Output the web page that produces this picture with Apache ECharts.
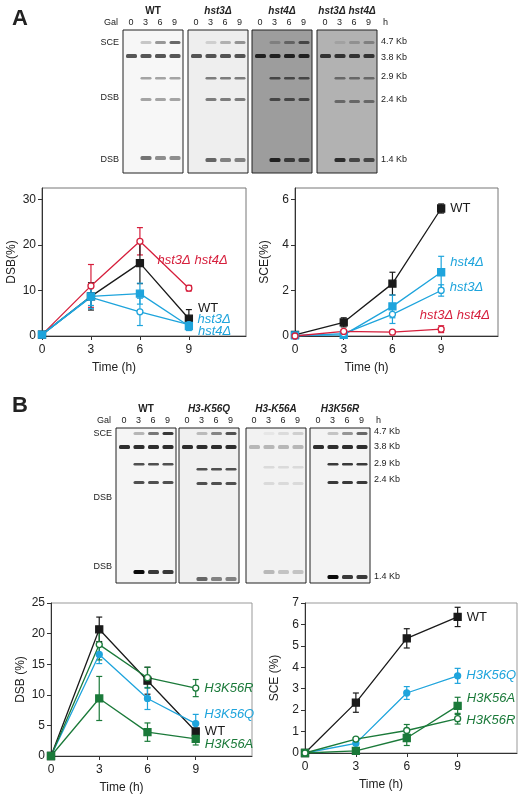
<!DOCTYPE html>
<html><head><meta charset="utf-8">
<script src="https://cdn.jsdelivr.net/npm/echarts@6/dist/echarts.min.js"></script>
<style>html,body{margin:0;background:#fff}#c{width:519px;height:800px}</style>
</head><body><div id="c"></div>
<script>
const times = [0, 3, 6, 9];
const timeTicks = [0, 3, 6, 9];
// Panel A DSB
const aDsbWT = [0.3, 8.7, 16.0, 3.8], aDsbWTErr = [0.3, 3.0, 4.5, 2.0];
const aDsbH3 = [0.3, 8.5, 5.3, 2.5], aDsbH3Err = [0.3, 2.5, 3.0, 1.0];
const aDsbH4 = [0.3, 8.7, 9.3, 2.2], aDsbH4Err = [0.3, 2.0, 2.3, 1.0];
const aDsbDbl = [0.3, 11.0, 20.8, 10.5], aDsbDblErr = [0.3, 4.7, 3.0, 0.6];
// Panel A SCE
const aSceWT = [0.05, 0.6, 2.3, 5.6], aSceWTErr = [0.05, 0.2, 0.5, 0.2];
const aSceH4 = [0.03, 0.05, 1.3, 2.8], aSceH4Err = [0.03, 0.05, 0.5, 0.7];
const aSceH3 = [0.0, 0.1, 0.95, 2.0], aSceH3Err = [0.02, 0.05, 0.4, 0.25];
const aSceDbl = [0.0, 0.2, 0.17, 0.3], aSceDblErr = [0.02, 0.05, 0.03, 0.15];
// Panel B DSB
const bDsbWT = [0, 20.7, 12.3, 4.0], bDsbWTErr = [0.2, 2.0, 2.2, 0.5];
const bDsbQ = [0, 16.6, 9.4, 5.3], bDsbQErr = [0.2, 1.5, 1.8, 1.5];
const bDsbR = [0, 18.2, 12.8, 11.1], bDsbRErr = [0.2, 2.5, 1.7, 1.4];
const bDsbA = [0, 9.4, 3.9, 2.8], bDsbAErr = [0.2, 3.6, 1.5, 1.0];
// Panel B SCE
const bSceWT = [0, 2.35, 5.35, 6.35], bSceWTErr = [0.05, 0.45, 0.45, 0.45];
const bSceQ = [0, 0.45, 2.8, 3.6], bSceQErr = [0.05, 0.05, 0.3, 0.35];
const bSceA = [0, 0.1, 0.7, 2.2], bSceAErr = [0.05, 0.05, 0.35, 0.4];
const bSceR = [0, 0.65, 1.05, 1.6], bSceRErr = [0.05, 0.05, 0.28, 0.25];

const gelATitles = ['WT', 'hst3Δ', 'hst4Δ', 'hst3Δ hst4Δ'];
const gelBTitles = ['WT', 'H3-K56Q', 'H3-K56A', 'H3K56R'];
const galLanes = ['0', '3', '6', '9'];

const BLACK = '#1a1a1a', CYAN = '#1ea4dc', RED = '#d61f3c', GREEN = '#1b7a3a';
const chart = echarts.init(document.getElementById('c'));

function errSeries(g, vals, errs, color) {
  return {
    type: 'custom', xAxisIndex: g, yAxisIndex: g, z: 3,
    data: times.map((t, i) => [t, vals[i] - errs[i], vals[i] + errs[i]]),
    renderItem: (p, api) => {
      const lo = api.coord([api.value(0), api.value(1)]);
      const hi = api.coord([api.value(0), api.value(2)]);
      const st = { stroke: color, lineWidth: 1.2 };
      return { type: 'group', children: [
        { type: 'line', shape: { x1: lo[0], y1: lo[1], x2: hi[0], y2: hi[1] }, style: st },
        { type: 'line', shape: { x1: lo[0] - 3, y1: lo[1], x2: lo[0] + 3, y2: lo[1] }, style: st },
        { type: 'line', shape: { x1: hi[0] - 3, y1: hi[1], x2: hi[0] + 3, y2: hi[1] }, style: st }
      ]};
    }
  };
}
function lineSeries(g, vals, color, sym, open, label, off) {
  return {
    type: 'line', xAxisIndex: g, yAxisIndex: g, z: 4,
    symbol: sym, symbolSize: sym === 'rect' ? 7 : 6,
    lineStyle: { color, width: 1.3 },
    itemStyle: { color: open ? '#fff' : color, borderColor: color, borderWidth: 1.3 },
    data: times.map((t, i) => {
      const d = { value: [t, vals[i]] };
      if (i === 3 && label) d.label = { show: true, formatter: label, position: 'right', offset: off,
        color: label === 'WT' ? BLACK : color, fontStyle: label === 'WT' ? 'normal' : 'italic',
        fontSize: 13, fontFamily: 'Liberation Sans' };
      return d;
    })
  };
}
function both(g, vals, errs, color, sym, open, label, off) {
  return [errSeries(g, vals, errs, color), lineSeries(g, vals, color, sym, open, label, off)];
}
const font = { fontFamily: 'Liberation Sans', fontSize: 12, color: '#222' };
function xAx(g) {
  return { type: 'value', gridIndex: g, min: 0, max: 12.5,
    axisLine: { lineStyle: { color: '#333' } },
    axisTick: { customValues: timeTicks, length: 4, lineStyle: { color: '#333' } },
    axisLabel: { customValues: timeTicks, ...font, fontSize: 12 }, splitLine: { show: false },
    name: 'Time (h)', nameLocation: 'middle', nameGap: 26, nameTextStyle: { ...font, padding: [0, 60, 0, 0] } };
}
function yAx(g, max, interval, name) {
  return { type: 'value', gridIndex: g, min: 0, max, interval,
    axisLine: { show: true, lineStyle: { color: '#333' } },
    axisTick: { show: true, length: 4, inside: false, lineStyle: { color: '#333' } },
    axisLabel: { ...font, margin: 6 }, splitLine: { show: false },
    name, nameLocation: 'middle', nameGap: 24, nameTextStyle: { ...font } };
}

// ---- gels ----
const graphics = [];
function txt(x, y, s, o) { graphics.push({ type: 'text', x, y, style: Object.assign({ text: s, ...font, fontSize: 9, fill: '#222' }, o || {}) }); }
function band(x, y, w, h, a) { graphics.push({ type: 'rect', shape: { x, y, width: w, height: h, r: 1.5 }, style: { fill: 'rgba(10,10,10,' + a + ')' } }); }
function gel(panelX, top, h, w, bgs, titles, titleItalic, rows, bandSpec, labels) {
  titles.forEach((t, i) => txt(panelX[i] + w / 2, top - 24, t, { fontSize: 10, fontWeight: 'bold', fontStyle: titleItalic[i] ? 'italic' : 'normal', align: 'center' }));
  txt(panelX[0] - 5, top - 7, 'Gal', { align: 'right', verticalAlign: 'middle' });
  panelX.forEach((px, pi) => {
    galLanes.forEach((l, li) => txt(px + 8 + li * 14.5, top - 7, l, { align: 'center', verticalAlign: 'middle' }));
    graphics.push({ type: 'rect', shape: { x: px, y: top, width: w, height: h }, style: { fill: bgs[pi], stroke: '#222', lineWidth: 1 } });
    bandSpec[pi].forEach(b => band(px + 3 + b[0] * 14.5, b[1], 11, b[2] || 3, b[3]));
  });
  const lx = panelX[3] + w + 4;
  txt(lx + 2, top - 7, 'h', { verticalAlign: 'middle' });
  labels.forEach(l => txt(lx, l[1], l[0], { verticalAlign: 'middle' }));
  rows.forEach(r => txt(panelX[0] - 4, r[1], r[0], { align: 'right', verticalAlign: 'middle' }));
}
function std(sce, main, b1, b2, dsb, a) {
  const out = [];
  [0, 1, 2, 3].forEach(l => out.push([l, main, 4, 0.85 * a[0]]));
  [1, 2, 3].forEach((l, i) => { out.push([l, sce, 3, a[1] * (i + 1) / 3]); out.push([l, b1, 2.5, a[2]]); out.push([l, b2, 3, a[2]]); out.push([l, dsb, 4, a[3] * (i === 0 ? 1 : 0.8)]); });
  return out;
}
// gel A
gel([123, 188, 252, 317], 30, 143, 60, ['#f7f7f7', '#eeeeee', '#9d9d9d', '#b2b2b2'],
  gelATitles, [false, true, true, true], [['SCE', 43], ['DSB', 98], ['DSB', 160]],
  [std(41, 54, 77, 98, 156, [0.8, 0.6, 0.35, 0.55]), std(41, 54, 77, 98, 158, [0.8, 0.4, 0.5, 0.6]),
   std(41, 54, 77, 98, 158, [1, 0.6, 0.6, 0.85]), std(41, 54, 77, 100, 158, [0.9, 0.3, 0.45, 0.8])],
  [['4.7 Kb', 42], ['3.8 Kb', 58], ['2.9 Kb', 77], ['2.4 Kb', 100], ['1.4 Kb', 160]]);
txt(12, 8, 'A', { fontSize: 22, fontWeight: 'bold', fontFamily: 'Liberation Sans' });
// gel B
gel([116, 179, 246, 310], 428, 155, 60, ['#f5f5f5', '#f0f0f0', '#f2f2f2', '#f3f3f3'],
  gelBTitles, [false, true, true, true], [['SCE', 434], ['DSB', 498], ['DSB', 567]],
  [std(432, 445, 463, 481, 570, [1, 0.8, 0.7, 1]), std(432, 445, 468, 482, 577, [1, 0.7, 0.7, 0.6]),
   std(432, 445, 466, 482, 570, [0.3, 0.15, 0.1, 0.25]), std(432, 445, 463, 481, 575, [1, 0.6, 0.8, 1])],
  [['4.7 Kb', 432], ['3.8 Kb', 447], ['2.9 Kb', 464], ['2.4 Kb', 480], ['1.4 Kb', 577]]);
txt(12, 395, 'B', { fontSize: 22, fontWeight: 'bold', fontFamily: 'Liberation Sans' });

const series = [
  ...both(0, aDsbDbl, aDsbDblErr, RED, 'circle', true, 'hst3Δ hst4Δ', [-40, -28]),
  ...both(0, aDsbWT, aDsbWTErr, BLACK, 'rect', false, 'WT', [0, -10]),
  ...both(0, aDsbH3, aDsbH3Err, CYAN, 'circle', true, 'hst3Δ', [0, -5]),
  ...both(0, aDsbH4, aDsbH4Err, CYAN, 'rect', false, 'hst4Δ', [0, 5]),
  ...both(1, aSceWT, aSceWTErr, BLACK, 'rect', false, 'WT', [0, 0]),
  ...both(1, aSceH4, aSceH4Err, CYAN, 'rect', false, 'hst4Δ', [0, -10]),
  ...both(1, aSceH3, aSceH3Err, CYAN, 'circle', true, 'hst3Δ', [0, -3]),
  ...both(1, aSceDbl, aSceDblErr, RED, 'circle', true, 'hst3Δ hst4Δ', [-30, -14]),
  ...both(2, bDsbWT, bDsbWTErr, BLACK, 'rect', false, 'WT', [0, 0]),
  ...both(2, bDsbQ, bDsbQErr, CYAN, 'circle', false, 'H3K56Q', [0, -9]),
  ...both(2, bDsbR, bDsbRErr, GREEN, 'circle', true, 'H3K56R', [0, 0]),
  ...both(2, bDsbA, bDsbAErr, GREEN, 'rect', false, 'H3K56A', [0, 6]),
  ...both(3, bSceWT, bSceWTErr, BLACK, 'rect', false, 'WT', [0, 0]),
  ...both(3, bSceQ, bSceQErr, CYAN, 'circle', false, 'H3K56Q', [0, 0]),
  ...both(3, bSceA, bSceAErr, GREEN, 'rect', false, 'H3K56A', [0, -7]),
  ...both(3, bSceR, bSceRErr, GREEN, 'circle', true, 'H3K56R', [0, 2])
];

chart.setOption({
  animation: false,
  grid: [
    { left: 42, right: 273, top: 188, bottom: 464, show: true, borderColor: '#777', borderWidth: 1 },
    { left: 295, right: 21, top: 188, bottom: 464, show: true, borderColor: '#777', borderWidth: 1 },
    { left: 51, right: 267, top: 603, bottom: 44, show: true, borderColor: '#999', borderWidth: 1 },
    { left: 305, right: 2, top: 603, bottom: 47, show: true, borderColor: '#999', borderWidth: 1 }
  ],
  xAxis: [xAx(0), xAx(1), xAx(2), xAx(3)],
  yAxis: [yAx(0, 32.5, 10, 'DSB(%)'), yAx(1, 6.5, 2, 'SCE(%)'), yAx(2, 25, 5, 'DSB (%)'), yAx(3, 7, 1, 'SCE (%)')],
  series,
  graphic: graphics
});
</script></body></html>
